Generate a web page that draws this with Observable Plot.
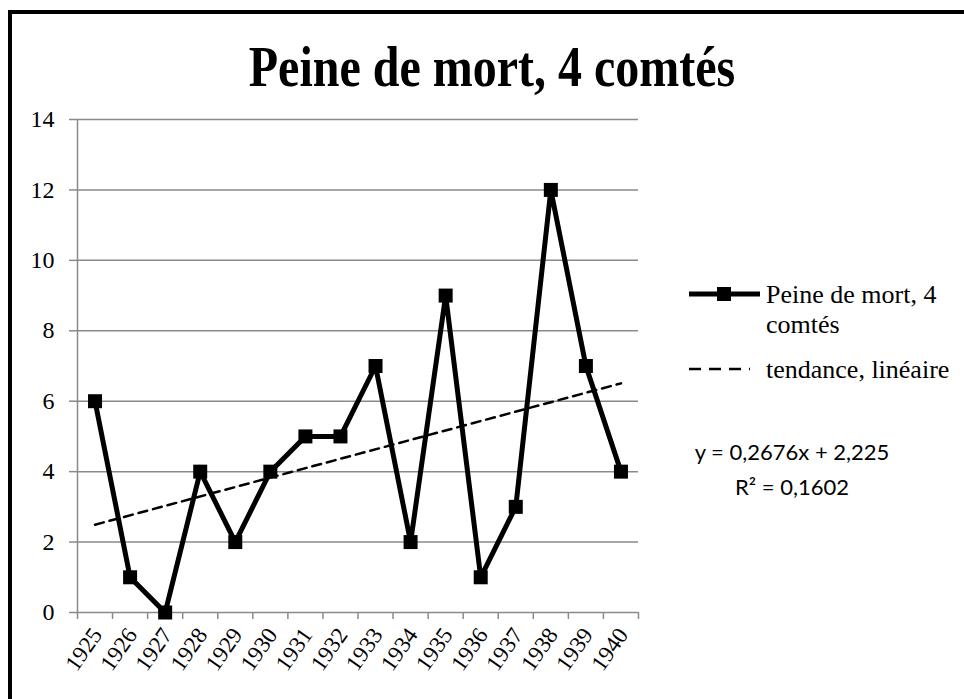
<!DOCTYPE html>
<html>
<head>
<meta charset="utf-8">
<script src="https://cdn.jsdelivr.net/npm/d3@7"></script>
<script src="https://cdn.jsdelivr.net/npm/@observablehq/plot@0.6"></script>
<style>
  html, body { margin: 0; padding: 0; background: #fff; }
  #wrap { position: relative; width: 964px; height: 699px; overflow: hidden; background: #fff; }
  #frame { position: absolute; left: 8px; top: 10px; width: 1000px; height: 800px; border-left: 4px solid #000; border-top: 4px solid #000; box-sizing: border-box; }
  #chart { position: absolute; left: 0; top: 0; }
  #title { position: absolute; left: 0; width: 984px; top: 33px; text-align: center; font-family: "Liberation Serif", "Times New Roman", serif; font-weight: bold; font-size: 48px; line-height: 56px; transform-origin: center top; transform: scaleY(1.2); white-space: nowrap; }
  .leg { position: absolute; font-family: "Liberation Serif", "Times New Roman", serif; font-size: 26px; line-height: 30px; color: #000; white-space: nowrap; }
  #eq { position: absolute; left: 672px; width: 240px; top: 434px; text-align: center; font-family: Lato, "Open Sans", sans-serif; font-size: 22px; line-height: 35px; color: #000; }
  #sw { position: absolute; left: 0; top: 0; }
</style>
</head>
<body>
<div id="wrap">
  <div id="frame"></div>
  <div id="chart"></div>
  <div id="title">Peine de mort, 4 comtés</div>
  <svg id="sw" width="964" height="699"></svg>
  <div class="leg" style="left:766px; top:280px;">Peine de mort, 4<br>comtés</div>
  <div class="leg" style="left:766px; top:355px;">tendance, linéaire</div>
  <div id="eq">y = 0,2676x + 2,225<br>R² = 0,1602</div>
</div>
<script>
const years = ["1925","1926","1927","1928","1929","1930","1931","1932","1933","1934","1935","1936","1937","1938","1939","1940"];
const values = [6, 1, 0, 4, 2, 4, 5, 5, 7, 2, 9, 1, 3, 12, 7, 4];
const yTicks = [0, 2, 4, 6, 8, 10, 12, 14];
const seriesName = "Peine de mort, 4 comtés";
const trendName = "tendance, linéaire";

const data = years.map((yr, i) => ({idx: i + 1, year: yr, value: values[i]}));
const idxTicks = years.map((_, i) => i + 1);
const bounds = years.map((_, i) => i + 0.5).concat([years.length + 0.5]);

const gray = "#8a8a8a";
const serif = "Liberation Serif";

const chart = Plot.plot({
  width: 964,
  height: 699,
  marginLeft: 77,
  marginRight: 326,
  marginTop: 119,
  marginBottom: 87,
  style: {fontFamily: serif, color: "#000", background: "transparent"},
  x: {type: "linear", domain: [0.5, years.length + 0.5]},
  y: {type: "linear", domain: [0, 14]},
  marks: [
    Plot.gridY(yTicks, {stroke: gray, strokeOpacity: 1, strokeWidth: 1.5}),
    Plot.ruleX([0.5], {stroke: gray, strokeWidth: 1.5}),
    Plot.axisY({ticks: yTicks, tickSize: 8, tickPadding: 15, stroke: gray, strokeWidth: 1.5, fill: "#000", fontSize: 24, fontFamily: serif, label: null}),
    Plot.axisX({ticks: bounds, tickSize: 7, stroke: gray, strokeWidth: 1.5, tickFormat: () => "", label: null}),
    Plot.axisX({ticks: idxTicks, tickSize: 0, tickPadding: 18, dx: 2, tickRotate: -55, fontSize: 23, fontFamily: serif, fill: "#000", tickFormat: d => years[d - 1], label: null}),
    Plot.linearRegressionY(data, {x: "idx", y: "value", stroke: "#000", strokeWidth: 2.5, strokeDasharray: "9,6", ci: 0}),
    Plot.line(data, {x: "idx", y: "value", stroke: "#000", strokeWidth: 5, strokeLinejoin: "miter", strokeMiterlimit: 3}),
    Plot.dot(data, {x: "idx", y: "value", symbol: "square", r: 7.9, fill: "#000", stroke: "none"})
  ]
});
document.getElementById("chart").appendChild(chart);

// legend swatches
const sw = d3.select("#sw");
sw.append("line").attr("x1", 689).attr("x2", 760).attr("y1", 294).attr("y2", 294).attr("stroke", "#000").attr("stroke-width", 5);
sw.append("rect").attr("x", 717).attr("y", 287).attr("width", 14).attr("height", 14).attr("fill", "#000");
sw.append("line").attr("x1", 689).attr("x2", 750).attr("y1", 369).attr("y2", 369).attr("stroke", "#000").attr("stroke-width", 2.5).attr("stroke-dasharray", "12,8");
</script>
</body>
</html>
